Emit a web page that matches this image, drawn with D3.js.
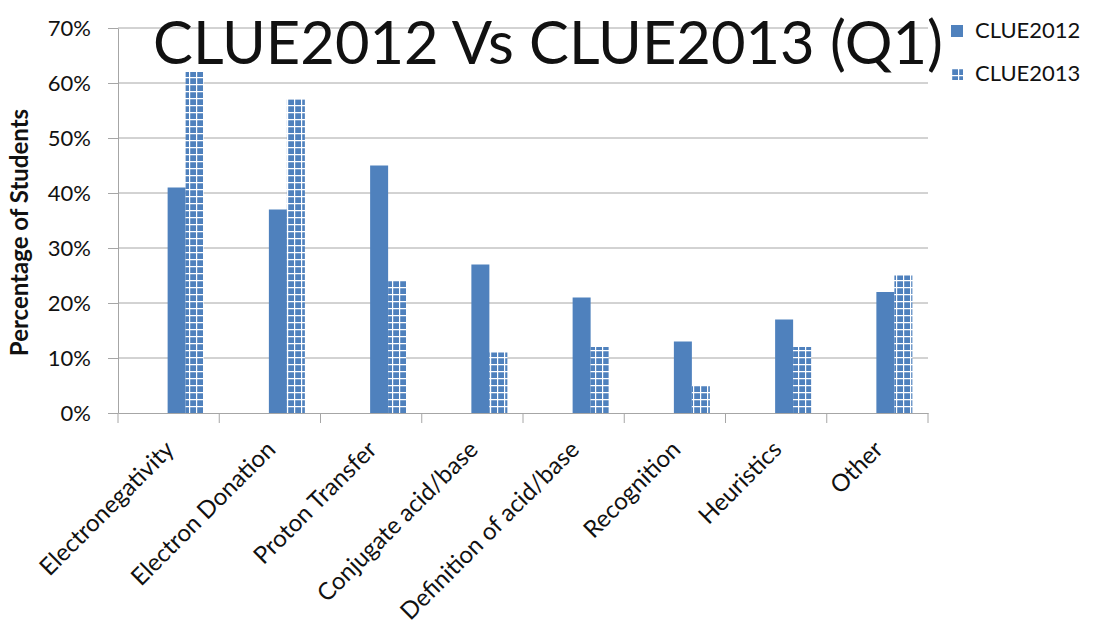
<!DOCTYPE html>
<html>
<head>
<meta charset="utf-8">
<script src="https://cdn.jsdelivr.net/npm/d3@7"></script>
<style>
  body { margin: 0; background: #fff; }
  text { font-family: Lato, "Open Sans", sans-serif; fill: #111; }
</style>
</head>
<body>
<div id="chart"></div>
<script>
const categories = ["Electronegativity", "Electron Donation", "Proton Transfer", "Conjugate acid/base",
  "Definition of acid/base", "Recognition", "Heuristics", "Other"];
const clue2012 = [41, 37, 45, 27, 21, 13, 17, 22];
const clue2013 = [62, 57, 24, 11, 12, 5, 12, 25];
const yTicks = [0, 10, 20, 30, 40, 50, 60, 70];
const seriesNames = ["CLUE2012", "CLUE2013"];

const W = 1095, H = 634;
const plot = { left: 118, right: 928, top: 28, bottom: 413 };

const svg = d3.select("#chart").append("svg")
  .attr("width", W).attr("height", H);

// grid pattern for the second series
const defs = svg.append("defs");
const pat = defs.append("pattern")
  .attr("id", "grid")
  .attr("patternUnits", "userSpaceOnUse")
  .attr("width", 7).attr("height", 7);
pat.append("rect").attr("width", 7).attr("height", 7).attr("fill", "#4f81bd");
pat.append("path").attr("d", "M0,0.6H7M0.6,0V7")
  .attr("stroke", "#fff").attr("stroke-width", 1.2);

const x = d3.scaleBand().domain(categories).range([plot.left, plot.right]);
const y = d3.scaleLinear().domain([0, 70]).range([plot.bottom, plot.top]);
const barW = 18;

// gridlines
svg.append("g").selectAll("line").data(yTicks.slice(1)).join("line")
  .attr("x1", plot.left).attr("x2", plot.right)
  .attr("y1", d => y(d)).attr("y2", d => y(d))
  .attr("stroke", "#a6a6a6").attr("stroke-width", 1);

// y axis
const yAxis = svg.append("g")
  .attr("transform", `translate(${plot.left},0)`)
  .call(d3.axisLeft(y).tickValues(yTicks).tickFormat(d => d + "%").tickSize(10).tickSizeOuter(0));
yAxis.select(".domain").attr("stroke", "#a6a6a6");
yAxis.selectAll(".tick line").attr("stroke", "#a6a6a6");
yAxis.selectAll(".tick text")
  .attr("x", -27).style("font-size", "22px").style("font-family", "Lato, sans-serif").attr("fill", "#111");

// x axis
const xAxis = svg.append("g")
  .attr("transform", `translate(0,${plot.bottom})`)
  .call(d3.axisBottom(x).tickSize(0).tickSizeOuter(0).tickFormat(""));
xAxis.select(".domain").attr("stroke", "#a6a6a6");
xAxis.selectAll(".tick").remove();
const bounds = categories.map(c => x(c)).concat([plot.right]);
svg.append("g").selectAll("line").data(bounds).join("line")
  .attr("x1", d => d).attr("x2", d => d)
  .attr("y1", plot.bottom).attr("y2", plot.bottom + 10)
  .attr("stroke", "#a6a6a6");

svg.append("g").selectAll("text").data(categories).join("text")
  .attr("transform", d => `translate(${x(d) + x.bandwidth() / 2 + 7},${plot.bottom + 38}) rotate(-45)`)
  .attr("text-anchor", "end")
  .style("font-size", "24px")
  .text(d => d);

// bars
const center = d => x(d) + x.bandwidth() / 2;
svg.append("g").selectAll("rect").data(categories).join("rect")
  .attr("x", d => center(d) - 1)
  .attr("y", (d, i) => y(clue2012[i]))
  .attr("width", barW)
  .attr("height", (d, i) => y(0) - y(clue2012[i]))
  .attr("fill", "#4f81bd");
svg.append("g").selectAll("rect").data(categories).join("rect")
  .attr("x", d => center(d) - 1 + barW)
  .attr("y", (d, i) => y(clue2013[i]))
  .attr("width", barW)
  .attr("height", (d, i) => y(0) - y(clue2013[i]))
  .attr("fill", "url(#grid)");

// y title
svg.append("text")
  .attr("transform", `translate(28,${(plot.top + plot.bottom) / 2 + 12}) rotate(-90)`)
  .attr("text-anchor", "middle")
  .style("font-size", "24px").style("font-weight", "bold")
  .text("Percentage of Students");

// title, sized so it fits between the axis and the legend
const title = svg.append("text")
  .attr("x", 548).attr("y", 64)
  .attr("text-anchor", "middle")
  .style("font-size", "64px")
  .text("CLUE2012 Vs CLUE2013 (Q1)");
const tw = title.node().getComputedTextLength();
title.style("font-size", (64 * 790 / tw) + "px");

// legend
const leg = svg.append("g").selectAll("g").data(seriesNames).join("g")
  .attr("transform", (d, i) => `translate(951,${25 + i * 43})`);
leg.append("rect").attr("width", 12).attr("height", 12)
  .attr("fill", (d, i) => i === 0 ? "#4f81bd" : "url(#grid)");
leg.append("text").attr("x", 24).attr("y", 13)
  .style("font-size", "22px").text(d => d);
</script>
</body>
</html>
